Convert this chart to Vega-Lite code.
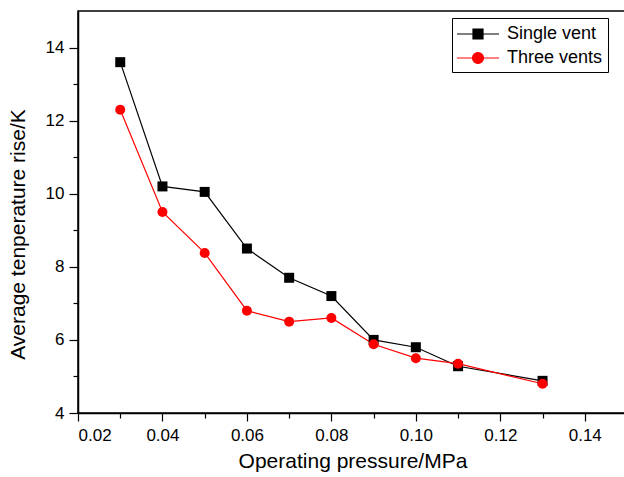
{
  "$schema": "https://vega.github.io/schema/vega-lite/v6.json",
  "autosize": "none",
  "padding": {"left": 78, "top": 11, "right": 0, "bottom": 64},
  "width": 549,
  "height": 402,
  "background": "white",
  "config": {
    "font": "Liberation Sans",
    "view": {"stroke": "black", "strokeWidth": 1.5},
    "axis": {
      "grid": false,
      "domainColor": "black",
      "domainWidth": 1.5,
      "tickColor": "black",
      "tickWidth": 1.2,
      "labelColor": "black",
      "labelFont": "Liberation Sans",
      "labelFontSize": 17,
      "titleFont": "Liberation Sans",
      "titleFontSize": 21,
      "titleFontWeight": "normal",
      "titleColor": "black"
    }
  },
  "data": {
    "values": [
      {"p": 0.03, "t": 13.6, "series": "Single vent"},
      {"p": 0.04, "t": 10.2, "series": "Single vent"},
      {"p": 0.05, "t": 10.05, "series": "Single vent"},
      {"p": 0.06, "t": 8.5, "series": "Single vent"},
      {"p": 0.07, "t": 7.7, "series": "Single vent"},
      {"p": 0.08, "t": 7.2, "series": "Single vent"},
      {"p": 0.09, "t": 6.0, "series": "Single vent"},
      {"p": 0.10, "t": 5.8, "series": "Single vent"},
      {"p": 0.11, "t": 5.28, "series": "Single vent"},
      {"p": 0.13, "t": 4.88, "series": "Single vent"},
      {"p": 0.03, "t": 12.3, "series": "Three vents"},
      {"p": 0.04, "t": 9.5, "series": "Three vents"},
      {"p": 0.05, "t": 8.38, "series": "Three vents"},
      {"p": 0.06, "t": 6.8, "series": "Three vents"},
      {"p": 0.07, "t": 6.5, "series": "Three vents"},
      {"p": 0.08, "t": 6.6, "series": "Three vents"},
      {"p": 0.09, "t": 5.88, "series": "Three vents"},
      {"p": 0.10, "t": 5.5, "series": "Three vents"},
      {"p": 0.11, "t": 5.35, "series": "Three vents"},
      {"p": 0.13, "t": 4.8, "series": "Three vents"}
    ]
  },
  "encoding": {
    "x": {
      "field": "p", "type": "quantitative",
      "scale": {"domain": [0.02, 0.15], "nice": false, "zero": false},
      "axis": {
        "title": "Operating pressure/MPa",
        "values": [0.02, 0.03, 0.04, 0.05, 0.06, 0.07, 0.08, 0.09, 0.10, 0.11, 0.12, 0.13, 0.14],
        "labelExpr": "(round(datum.value*100) % 2 == 0) ? format(datum.value, '.2f') : ''",
        "tickSize": {"condition": {"test": "round(datum.value*100) % 2 == 0", "value": 8}, "value": 5},
        "labelPadding": 6,
        "titlePadding": 7
      }
    },
    "y": {
      "field": "t", "type": "quantitative",
      "scale": {"domain": [4, 15], "nice": false, "zero": false},
      "axis": {
        "title": "Average tenperature rise/K",
        "values": [4, 5, 6, 7, 8, 9, 10, 11, 12, 13, 14],
        "labelExpr": "(datum.value % 2 == 0) ? format(datum.value, 'd') : ''",
        "tickSize": {"condition": {"test": "datum.value % 2 == 0", "value": 9}, "value": 5},
        "labelPadding": 5,
        "titlePadding": 17,
        "titleY": 223
      }
    },
    "color": {
      "field": "series", "type": "nominal",
      "scale": {"domain": ["Single vent", "Three vents"], "range": ["black", "red"]},
      "legend": {
        "title": null,
        "orient": "none",
        "legendX": 374,
        "legendY": 7,
        "strokeColor": "black",
        "padding": 5,
        "labelFontSize": 18,
        "labelFont": "Liberation Sans",
        "labelColor": "black",
        "symbolType": "M-2.1,0H2.1M-0.5,-0.5H0.5V0.5H-0.5Z",
        "symbolSize": 400,
        "symbolOffset": 10,
        "labelOffset": 18,
        "rowPadding": 4,
        "symbolStrokeWidth": 1.2,
        "encode": {
          "symbols": {
            "update": {
              "shape": {"signal": "datum.value == 'Single vent' ? 'M-2.1,0H2.1M-0.5,-0.5H0.5V0.5H-0.5Z' : 'M-2.1,0H2.1M0.55,0A0.55,0.55 0 1 1 -0.55,0A0.55,0.55 0 1 1 0.55,0Z'"},
              "fill": {"signal": "datum.value == 'Single vent' ? 'black' : 'red'"},
              "stroke": {"signal": "datum.value == 'Single vent' ? 'black' : 'red'"},
              "strokeWidth": {"value": 1.2},
              "opacity": {"value": 1}
            }
          }
        }
      }
    }
  },
  "layer": [
    {
      "mark": {"type": "line", "strokeWidth": 1.2}
    },
    {
      "transform": [{"filter": "datum.series == 'Single vent'"}],
      "mark": {"type": "point", "shape": "square", "filled": true, "opacity": 1, "size": 100}
    },
    {
      "transform": [{"filter": "datum.series == 'Three vents'"}],
      "mark": {"type": "point", "shape": "circle", "filled": true, "opacity": 1, "size": 100}
    }
  ]
}
